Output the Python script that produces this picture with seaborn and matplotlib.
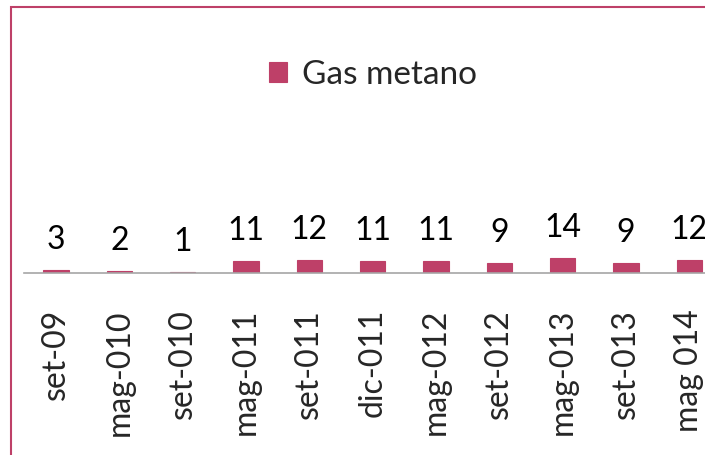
import matplotlib
matplotlib.use("Agg")
import matplotlib.pyplot as plt
import seaborn as sns
from matplotlib.patches import Rectangle

# data
periodi = ['set-09', 'mag-010', 'set-010', 'mag-011', 'set-011', 'dic-011',
           'mag-012', 'set-012', 'mag-013', 'set-013', 'mag 014']
gas_metano = [3, 2, 1, 11, 12, 11, 11, 9, 14, 9, 12]

sns.set_theme(style="white")
plt.rcParams['font.family'] = ['Lato', 'DejaVu Sans']

bar_color = '#BE4068'

fig = plt.figure(figsize=(7.05, 4.55), dpi=100)
ax = fig.add_axes([24 / 705, 1 - 273 / 455, 1 - 24 / 705, 160 / 455])

sns.barplot(x=periodi, y=gas_metano, color=bar_color, width=0.4,
            label='Gas metano', saturation=1, edgecolor=bar_color,
            linewidth=0.8, ax=ax)

for c in ax.containers:
    ax.bar_label(c, labels=[str(v) for v in gas_metano], padding=11,
                 fontsize=23, color='black', clip_on=False)

ax.set_xlim(-0.506, 10.25)
ax.set_ylim(0, 150)
ax.set_yticks([])
ax.set_xlabel('')
ax.set_ylabel('')

for side in ['top', 'right', 'left']:
    ax.spines[side].set_visible(False)
ax.spines['bottom'].set_color('#A6A6A6')
ax.spines['bottom'].set_linewidth(1.2)

ax.tick_params(axis='x', length=0, pad=26, labelsize=23, labelrotation=90)
for t in ax.get_xticklabels():
    t.set_va('top')

leg = ax.legend(loc='center', bbox_to_anchor=(373 / 705, 1 - 75 / 455),
                bbox_transform=fig.transFigure, frameon=False, fontsize=24,
                handlelength=0.55, handleheight=0.55, handletextpad=0.45)

# outer chart border, cut off on the right and bottom like the reference
fig.patches.append(Rectangle((11 / 705, -0.2), 1.2, 1.2 - 7 / 455,
                             transform=fig.transFigure, fill=False,
                             edgecolor=bar_color, linewidth=1.5))

fig.savefig('out.png', dpi=100)
